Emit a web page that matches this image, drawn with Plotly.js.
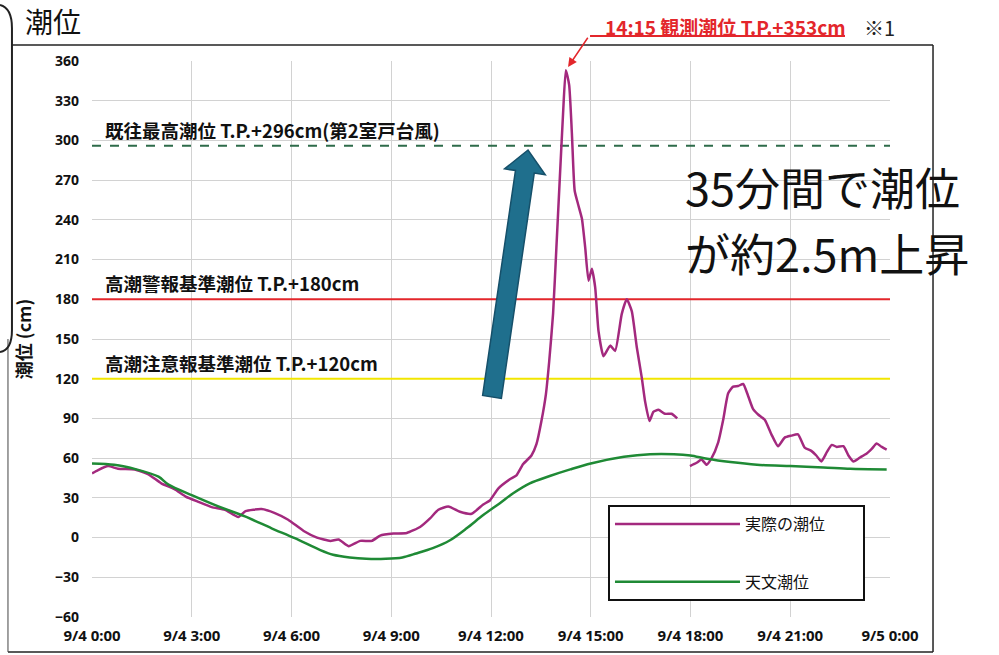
<!DOCTYPE html>
<html><head><meta charset="utf-8">
<script src="https://cdn.plot.ly/plotly-3.0.1.min.js"></script>
<style>html,body{margin:0;padding:0;background:#fff}</style>
</head><body><div id="chart" style="width:999px;height:655px"></div>
<script>
// ---- data ----
const actualTime = [
 '2018-09-04 00:00','2018-09-04 00:11','2018-09-04 00:29','2018-09-04 00:47','2018-09-04 01:17','2018-09-04 01:41',
 '2018-09-04 02:05','2018-09-04 02:29','2018-09-04 02:49','2018-09-04 03:12','2018-09-04 03:36','2018-09-04 04:00',
 '2018-09-04 04:24','2018-09-04 04:37','2018-09-04 05:06','2018-09-04 05:30','2018-09-04 05:54','2018-09-04 06:22',
 '2018-09-04 06:46','2018-09-04 07:10','2018-09-04 07:25','2018-09-04 07:43','2018-09-04 08:04','2018-09-04 08:25',
 '2018-09-04 08:40','2018-09-04 09:04','2018-09-04 09:28','2018-09-04 09:52','2018-09-04 10:10','2018-09-04 10:25',
 '2018-09-04 10:43','2018-09-04 11:04','2018-09-04 11:25','2018-09-04 11:46','2018-09-04 11:58','2018-09-04 12:13',
 '2018-09-04 12:34','2018-09-04 12:46','2018-09-04 12:58','2018-09-04 13:13','2018-09-04 13:22','2018-09-04 13:31',
 '2018-09-04 13:39','2018-09-04 13:45','2018-09-04 13:52','2018-09-04 13:58','2018-09-04 14:04','2018-09-04 14:10',
 '2018-09-04 14:15','2018-09-04 14:21','2018-09-04 14:26','2018-09-04 14:31','2018-09-04 14:37','2018-09-04 14:44',
 '2018-09-04 14:50','2018-09-04 14:56','2018-09-04 15:02','2018-09-04 15:08','2018-09-04 15:14','2018-09-04 15:23',
 '2018-09-04 15:35','2018-09-04 15:44','2018-09-04 15:56','2018-09-04 16:05','2018-09-04 16:14','2018-09-04 16:23',
 '2018-09-04 16:32','2018-09-04 16:38','2018-09-04 16:46','2018-09-04 16:53','2018-09-04 17:02','2018-09-04 17:14',
 '2018-09-04 17:26','2018-09-04 17:36','2018-09-04 17:48',
 '2018-09-04 17:59','2018-09-04 18:11','2018-09-04 18:20','2018-09-04 18:29','2018-09-04 18:38','2018-09-04 18:50',
 '2018-09-04 18:59','2018-09-04 19:08','2018-09-04 19:17','2018-09-04 19:26','2018-09-04 19:35','2018-09-04 19:44',
 '2018-09-04 19:53','2018-09-04 20:02','2018-09-04 20:14','2018-09-04 20:26','2018-09-04 20:38','2018-09-04 20:50',
 '2018-09-04 21:02','2018-09-04 21:14','2018-09-04 21:26','2018-09-04 21:38','2018-09-04 21:47','2018-09-04 21:56',
 '2018-09-04 22:06','2018-09-04 22:15','2018-09-04 22:24','2018-09-04 22:36','2018-09-04 22:45','2018-09-04 22:54',
 '2018-09-04 23:06','2018-09-04 23:18','2018-09-04 23:27','2018-09-04 23:36','2018-09-04 23:45','2018-09-04 23:54'
];
const actualLevel = [
 48.5, 51, 54, 52, 51.5, 48,
 41, 36.5, 31, 27, 23, 21,
 15.5, 20, 21.5, 18.5, 13.5, 5,
 0, -2.5, -1.5, -6.5, -2.5, -2.5,
 1.5, 3, 3.5, 8, 14.5, 21,
 23.5, 19.5, 18, 25, 28, 37,
 44, 47, 55.5, 62, 70.5, 88,
 108, 133, 169, 219, 270, 320,
 353, 342, 305, 262, 252, 241,
 219, 194, 203, 189, 156, 137,
 145, 141, 169, 180, 171, 144,
 121, 103, 88, 95, 96.5, 93.5,
 93.5, 90, null,
 54, 56.5, 59, 55, 60, 72,
 89, 109, 114, 114.5, 116, 107,
 97, 93, 89, 78, 69, 75.5,
 77, 78, 68, 65.5, 62, 57.5,
 64.5, 70, 68.5, 69, 62, 57.5,
 60.5, 63.5, 67, 71, 68.5, 66.5
];
const astroTime = [
 '2018-09-04 00:00','2018-09-04 00:40','2018-09-04 01:20','2018-09-04 02:00','2018-09-04 02:18','2018-09-04 03:00',
 '2018-09-04 03:48','2018-09-04 04:36','2018-09-04 05:24','2018-09-04 06:06','2018-09-04 06:52','2018-09-04 07:15',
 '2018-09-04 07:45','2018-09-04 08:15','2018-09-04 08:50','2018-09-04 09:20','2018-09-04 09:45','2018-09-04 10:15',
 '2018-09-04 10:46','2018-09-04 11:16','2018-09-04 11:46','2018-09-04 12:16','2018-09-04 12:40','2018-09-04 13:10',
 '2018-09-04 13:46','2018-09-04 14:23','2018-09-04 15:00','2018-09-04 16:00','2018-09-04 16:47','2018-09-04 17:30',
 '2018-09-04 18:00','2018-09-04 18:30','2018-09-04 19:12','2018-09-04 20:00','2018-09-04 21:00','2018-09-04 22:00',
 '2018-09-04 22:48','2018-09-04 23:54'
];
const astroLevel = [
 56, 55, 51.5, 46, 40, 32,
 23.5, 16, 7, -0.5, -9.5, -13,
 -15, -16, -16, -15, -12, -8,
 -2, 7, 17, 26, 33.5, 41,
 46.5, 51.5, 56, 61, 63, 63,
 62, 59.5, 57, 55, 54, 53,
 52, 51.5
];
const seriesNames = ['実際の潮位', '天文潮位'];
const seriesColors = ['#a3297e', '#1f8a35'];
const thresholdLevels = [296, 180, 120];
const thresholdLabels = ['既往最高潮位 T.P.+296cm(第2室戸台風)', '高潮警報基準潮位 T.P.+180cm', '高潮注意報基準潮位 T.P.+120cm'];
const thresholdColors = ['#2e6b4a', '#e3262b', '#f2e600'];
const thresholdDash = ['dash', 'solid', 'solid'];
const peakTime = '2018-09-04 14:15';
const peakLevel = 353;
const peakLabel = '14:15 観測潮位 T.P.+353cm';
const noteLabel = '※1';
const bigNoteLines = ['35分間で潮位', 'が約2.5m上昇'];
const chartTitle = '潮位';
const yTitle = '潮位 (cm)';
const xRange = ['2018-09-04 00:00', '2018-09-05 00:00'];
const yRange = [-60, 360];

const FONT = '"Noto Sans CJK JP", "Noto Sans", sans-serif';
const PAD = '\u00a0'.repeat(9);

const traces = [];
thresholdLevels.forEach((v, i) => {
  traces.push({x: xRange, y: [v, v], type: 'scatter', mode: 'lines', showlegend: false, hoverinfo: 'skip',
    line: {color: thresholdColors[i], width: 2, dash: thresholdDash[i]}});
});
traces.push({x: actualTime, y: actualLevel, name: seriesNames[0] + PAD, type: 'scatter', mode: 'lines',
   line: {color: seriesColors[0], width: 2.5, shape: 'spline', smoothing: 0.5}, connectgaps: false,
   legendgroup: 'a'});
traces.push({x: astroTime, y: astroLevel, name: seriesNames[1] + PAD, type: 'scatter', mode: 'lines',
   line: {color: seriesColors[1], width: 2.5, shape: 'spline', smoothing: 0.8},
   legendgroup: 'b'});

const shapes = [];
// frame and bracket (decoration)
shapes.push({type: 'line', xref: 'paper', yref: 'paper', x0: -0.1003, x1: 1.0539, y0: 1.0288, y1: 1.0288, line: {color: '#222', width: 1.5}});
shapes.push({type: 'line', xref: 'paper', yref: 'paper', x0: 1.0539, x1: 1.0539, y0: 1.0288, y1: -0.0629, line: {color: '#222', width: 1.5}});
shapes.push({type: 'line', xref: 'paper', yref: 'paper', x0: -0.1053, x1: 1.0539, y0: -0.0629, y1: -0.0629, line: {color: '#222', width: 1.5}});
shapes.push({type: 'line', xref: 'paper', yref: 'paper', x0: -0.1053, x1: -0.1053, y0: 0.50, y1: -0.0629, line: {color: '#444', width: 1}});
shapes.push({type: 'path', xref: 'paper', yref: 'paper',
  path: 'M -0.1153,1.1007 Q -0.1003,1.095 -0.1003,1.0594 L -0.1003,0.5162 Q -0.1003,0.48 -0.1153,0.4766',
  line: {color: '#222', width: 2}});
// underline of peak label
shapes.push({type: 'line', xref: 'paper', yref: 'paper', x0: 0.6241, x1: 0.9436, y0: 1.0450, y1: 1.0450, line: {color: '#e3262b', width: 2}});
// thick blue arrow
shapes.push({type: 'path', xref: 'paper', yref: 'paper',
  path: 'M 0.4895,0.3985 L 0.5307,0.8031 L 0.5170,0.8060 L 0.5464,0.8399 L 0.5680,0.7955 L 0.5542,0.7984 L 0.5130,0.3930 Z',
  fillcolor: '#1f6f8d', line: {color: '#16506a', width: 1.5}});

const annotations = [];
thresholdLevels.forEach((v, i) => {
  annotations.push({xref: 'paper', yref: 'y', x: 0.014, y: v, xanchor: 'left', yanchor: 'middle', yshift: 16,
    text: thresholdLabels[i], showarrow: false,
    font: {family: FONT, size: 18.5, color: '#111', weight: 'bold'}});
});
annotations.push({xref: 'x', yref: 'y', x: peakTime, y: peakLevel, text: '', showarrow: true,
  axref: 'pixel', ayref: 'pixel', ax: 23, ay: -34, standoff: 4,
  arrowcolor: '#e3262b', arrowwidth: 1.5, arrowhead: 2, arrowsize: 1.2});
annotations.push({xref: 'paper', yref: 'paper', x: 0.6404, y: 1.0612, xanchor: 'left', yanchor: 'middle',
  text: peakLabel, showarrow: false, font: {family: FONT, size: 19, color: '#e3262b', weight: 'bold'}});
annotations.push({xref: 'paper', yref: 'paper', x: 0.9649, y: 1.0594, xanchor: 'left', yanchor: 'middle',
  text: noteLabel, showarrow: false, font: {family: FONT, size: 20, color: '#222'}});
const bigY = [0.7734, 0.6547];
bigNoteLines.forEach((t, i) => {
  annotations.push({xref: 'paper', yref: 'paper', x: 0.7406, y: bigY[i], xanchor: 'left', yanchor: 'middle', align: 'left',
    text: t, showarrow: false, font: {family: FONT, size: 45, color: '#111'}});
});

const layout = {
  width: 999, height: 655,
  margin: {l: 92, r: 109, t: 61, b: 38},
  paper_bgcolor: '#fff', plot_bgcolor: '#fff',
  font: {family: FONT, color: '#111'},
  title: {text: chartTitle, x: 0.025, xanchor: 'left', xref: 'container', y: 0.965, yanchor: 'middle', yref: 'container',
    font: {family: FONT, size: 28, color: '#111'}},
  xaxis: {type: 'date', range: xRange, dtick: 3 * 3600000, tick0: xRange[0], tickformat: '%-m/%-d %-H:%M',
    showgrid: true, gridcolor: '#d2d2d2', gridwidth: 1, zeroline: false, showline: false, ticks: '',
    ticklabelstandoff: 8,
    tickfont: {family: '"Noto Sans", sans-serif', size: 15, color: '#111', weight: 'bold'}},
  yaxis: {range: yRange, dtick: 30, tick0: 0, showgrid: true, gridcolor: '#d2d2d2', gridwidth: 1,
    zeroline: false, showline: false, ticks: '', ticklabelstandoff: 12, automargin: true,
    tickfont: {family: '"Noto Sans", sans-serif', size: 14, color: '#111', weight: 'bold'},
    title: {text: yTitle, font: {family: FONT, size: 18, color: '#111', weight: 'bold'}, standoff: 18}},
  showlegend: true,
  legend: {x: 0.6466, y: 0.2014, xanchor: 'left', yanchor: 'top', bgcolor: '#fff', bordercolor: '#111', borderwidth: 2,
    font: {family: FONT, size: 16, color: '#111'}, itemwidth: 125,
    tracegroupgap: 34, traceorder: 'grouped'},
  shapes: shapes,
  annotations: annotations
};

Plotly.newPlot('chart', traces, layout, {displayModeBar: false, staticPlot: true});
</script>
</body></html>
